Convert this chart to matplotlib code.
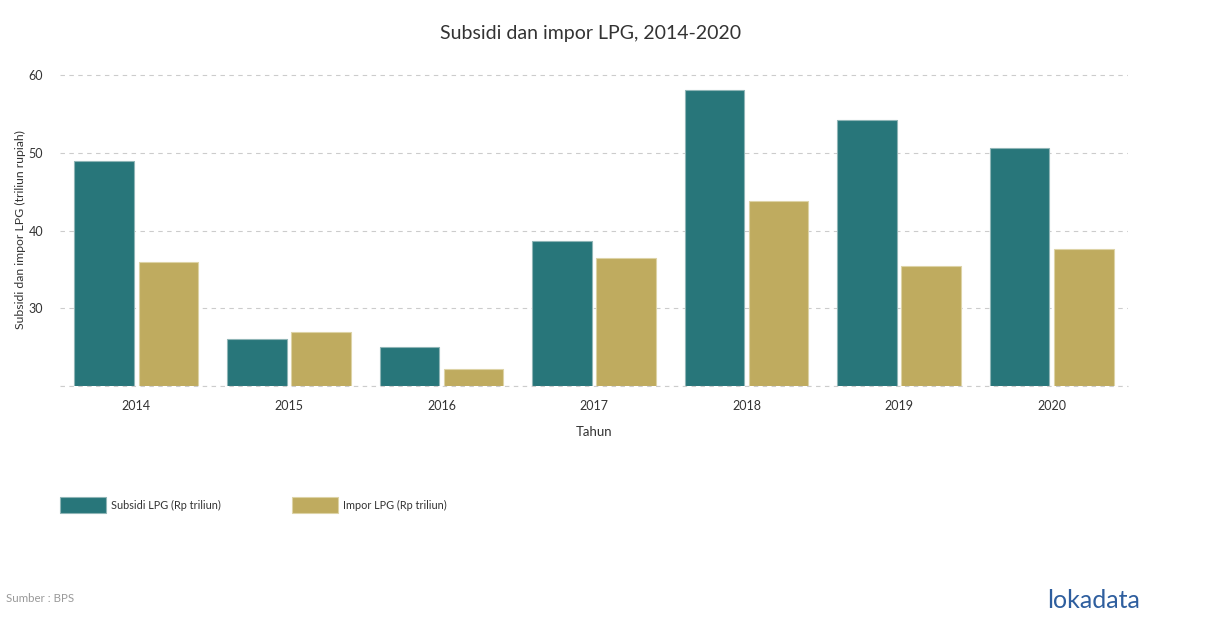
import matplotlib.pyplot as plt
import numpy as np
from matplotlib.patches import Rectangle

plt.rcParams['font.family'] = ['Lato', 'DejaVu Sans']

tahun = ['2014', '2015', '2016', '2017', '2018', '2019', '2020']
subsidi = [49.0, 26.0, 25.0, 38.7, 58.1, 54.2, 50.6]
impor = [35.9, 27.0, 22.2, 36.5, 43.8, 35.5, 37.6]

teal = '#28767a'
gold = '#bfab5f'
txt = '#333333'

fig = plt.figure(figsize=(12.1, 6.28), dpi=100)
ax = fig.add_axes([60 / 1210, 242 / 628, 1068 / 1210, 316 / 628])

x = np.arange(len(tahun))
w = 0.39
ax.bar(x - 0.21, subsidi, w, bottom=0, color=teal, edgecolor='#8fb5b6', linewidth=0.8, zorder=3)
ax.bar(x + 0.21, impor, w, bottom=0, color=gold, edgecolor='#ddd3a6', linewidth=0.8, zorder=3)

ax.set_xlim(-0.5, len(tahun) - 0.5)
ax.set_ylim(20, 60.65)
ax.set_yticks([20, 30, 40, 50, 60])
ax.set_yticklabels(['', '30', '40', '50', '60'])
ax.set_xticks(x)
ax.set_xticklabels(tahun)
ax.tick_params(length=0, labelsize=9, colors=txt)
ax.tick_params(axis='x', pad=10)
ax.tick_params(axis='y', pad=12)
ax.grid(axis='y', color='#cccccc', linestyle=(0, (4, 4)), linewidth=0.8, zorder=0)
ax.axhline(20, color='#cccccc', linestyle=(0, (4, 4)), linewidth=0.8, zorder=4, clip_on=False)
for s in ax.spines.values():
    s.set_visible(False)

ax.set_xlabel('Tahun', fontsize=9.5, color=txt, labelpad=10)
fig.text(20 / 1210, 1 - 230 / 628, 'Subsidi dan impor LPG (triliun rupiah)', rotation=90,
         ha='center', va='center', fontsize=8.8, color=txt)

fig.text(0.488, 1 - 33 / 628, 'Subsidi dan impor LPG, 2014-2020', ha='center', va='center',
         fontsize=14, color=txt)

# legenda
for px, lab, c, ec in [(60, 'Subsidi LPG (Rp triliun)', teal, '#8fb5b6'),
                       (292, 'Impor LPG (Rp triliun)', gold, '#ddd3a6')]:
    fig.patches.append(Rectangle((px / 1210, 1 - 513 / 628), 46 / 1210, 16 / 628,
                                 transform=fig.transFigure, facecolor=c, edgecolor=ec,
                                 linewidth=0.8))
    fig.text((px + 51) / 1210, 1 - 505 / 628, lab, ha='left', va='center',
             fontsize=7.8, color=txt)

fig.text(6 / 1210, 1 - 598 / 628, 'Sumber : BPS', ha='left', va='center',
         fontsize=8.3, color='#999999')
fig.text(1140 / 1210, 1 - 600 / 628, 'lokadata', ha='right', va='center',
         fontsize=18, color='#2e5e9e')

fig.savefig('out.png', dpi=100)
